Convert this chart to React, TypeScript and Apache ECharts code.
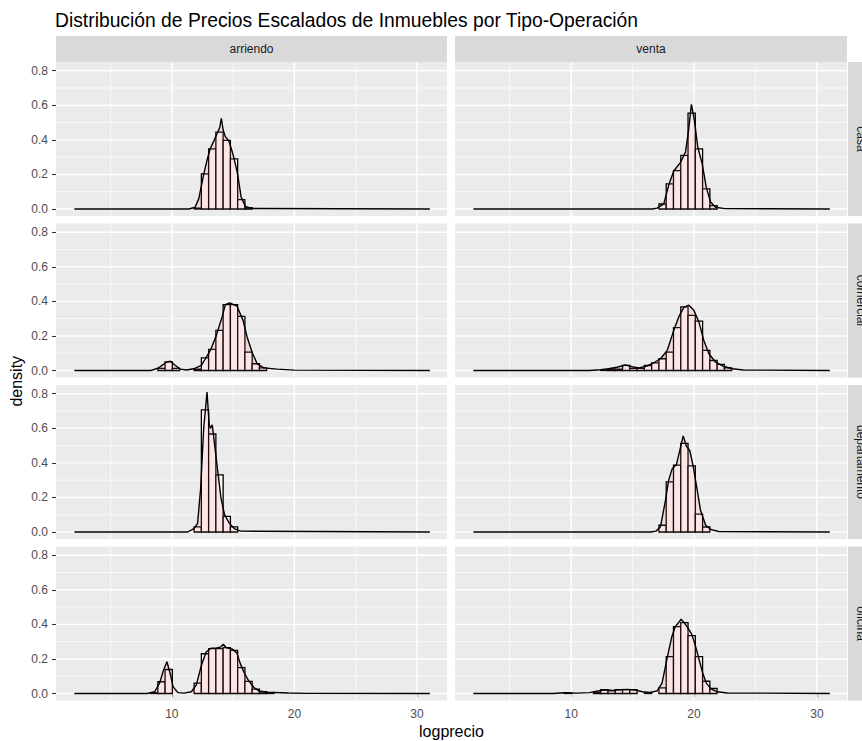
import React, { useEffect, useRef } from "react";
import * as echarts from "echarts";

// ---------- data ----------
const TITLE = "Distribución de Precios Escalados de Inmuebles por Tipo-Operación";
const OPERATIONS = ["arriendo", "venta"];
const TYPES = ["casa", "comercial", "departamento", "oficina"];
const X_TITLE = "logprecio";
const Y_TITLE = "density";
const BIN_WIDTH = 0.592;
const X_RANGE = [0.55, 32.45];
const Y_RANGE = [-0.0405, 0.8505];
const X_MAJOR = [10, 20, 30];
const X_MINOR = [5, 15, 25];
const Y_MAJOR = [0, 0.2, 0.4, 0.6, 0.8];
const Y_MINOR = [0.1, 0.3, 0.5, 0.7];

// histogram bins: [left edge, density]
const HIST_ARRIENDO_CASA = [[11.818, 0.005], [12.41, 0.203], [13.002, 0.348], [13.594, 0.445], [14.186, 0.397], [14.778, 0.29], [15.37, 0.054], [15.962, 0.008]];
const HIST_VENTA_CASA = [[17.146, 0.029], [17.738, 0.145], [18.33, 0.222], [18.922, 0.31], [19.514, 0.555], [20.106, 0.348], [20.698, 0.116], [21.29, 0.019]];
const HIST_ARRIENDO_COMERCIAL = [[8.858, 0.012], [9.45, 0.05], [10.042, 0.012], [11.818, 0.008], [12.41, 0.073], [13.002, 0.122], [13.594, 0.232], [14.186, 0.381], [14.778, 0.381], [15.37, 0.313], [15.962, 0.106], [16.554, 0.039], [17.146, 0.015]];
const HIST_VENTA_COMERCIAL = [[12.41, 0.004], [13.002, 0.008], [13.594, 0.008], [14.186, 0.03], [14.778, 0.012], [15.37, 0.012], [15.962, 0.029], [16.554, 0.044], [17.146, 0.068], [17.738, 0.106], [18.33, 0.248], [18.922, 0.368], [19.514, 0.319], [20.106, 0.286], [20.698, 0.116], [21.29, 0.058], [21.882, 0.035], [22.474, 0.015]];
const HIST_ARRIENDO_DEPARTAMENTO = [[11.818, 0.03], [12.41, 0.707], [13.002, 0.567], [13.594, 0.33], [14.186, 0.09], [14.778, 0.03]];
const HIST_VENTA_DEPARTAMENTO = [[17.146, 0.039], [17.738, 0.29], [18.33, 0.387], [18.922, 0.513], [19.514, 0.383], [20.106, 0.103], [20.698, 0.029]];
const HIST_ARRIENDO_OFICINA = [[8.266, 0.005], [8.858, 0.068], [9.45, 0.139], [11.818, 0.06], [12.41, 0.23], [13.002, 0.26], [13.594, 0.26], [14.186, 0.265], [14.778, 0.25], [15.37, 0.15], [15.962, 0.07], [16.554, 0.025], [17.146, 0.01], [17.738, 0.005]];
const HIST_VENTA_OFICINA = [[9.45, 0.003], [11.818, 0.008], [12.41, 0.022], [13.002, 0.015], [13.594, 0.022], [14.186, 0.022], [14.778, 0.022], [15.962, 0.003], [17.146, 0.033], [17.738, 0.213], [18.33, 0.387], [18.922, 0.41], [19.514, 0.335], [20.106, 0.213], [20.698, 0.071], [21.29, 0.029]];

// density curves: [logprecio, density]
const DENS_ARRIENDO_CASA = [[2.05, 0], [11.4, 0], [11.9, 0.01], [12.2, 0.06], [12.6, 0.2], [12.9, 0.29], [13.14, 0.35], [13.4, 0.39], [13.69, 0.435], [13.9, 0.47], [14.04, 0.525], [14.18, 0.46], [14.35, 0.42], [14.64, 0.395], [14.85, 0.35], [15.05, 0.3], [15.37, 0.2], [15.65, 0.07], [16.0, 0.015], [16.5, 0.003], [31.05, 0]];
const DENS_VENTA_CASA = [[2.05, 0], [16.6, 0], [17.0, 0.005], [17.54, 0.03], [17.95, 0.14], [18.35, 0.22], [18.9, 0.27], [19.31, 0.33], [19.55, 0.45], [19.79, 0.605], [20.04, 0.51], [20.3, 0.36], [20.67, 0.26], [21.0, 0.125], [21.35, 0.04], [21.75, 0.01], [22.5, 0.002], [31.05, 0]];
const DENS_ARRIENDO_COMERCIAL = [[2.05, 0], [8.3, 0], [8.92, 0.015], [9.55, 0.048], [9.88, 0.054], [10.29, 0.029], [10.7, 0.008], [11.2, 0.003], [11.78, 0.01], [12.41, 0.03], [12.74, 0.068], [13.14, 0.116], [13.63, 0.203], [14.1, 0.31], [14.37, 0.381], [14.72, 0.391], [15.32, 0.372], [15.81, 0.29], [16.14, 0.194], [16.55, 0.106], [16.95, 0.04], [17.5, 0.015], [18.6, 0.008], [20, 0.002], [31.05, 0]];
const DENS_VENTA_COMERCIAL = [[2.05, 0], [11.5, 0], [12.4, 0.004], [13.05, 0.01], [13.73, 0.019], [14.41, 0.032], [14.95, 0.022], [15.5, 0.015], [16.04, 0.023], [16.59, 0.039], [17.27, 0.068], [17.82, 0.116], [18.35, 0.232], [18.76, 0.31], [19.17, 0.365], [19.58, 0.378], [19.99, 0.348], [20.4, 0.28], [20.8, 0.174], [21.21, 0.097], [21.76, 0.048], [22.44, 0.023], [23.12, 0.01], [24, 0.003], [31.05, 0]];
const DENS_ARRIENDO_DEPARTAMENTO = [[2.05, 0], [11.3, 0], [11.8, 0.02], [12.1, 0.05], [12.35, 0.25], [12.6, 0.6], [12.87, 0.81], [13.05, 0.62], [13.15, 0.6], [13.3, 0.62], [13.5, 0.5], [13.75, 0.35], [14.0, 0.2], [14.3, 0.1], [14.7, 0.05], [15.1, 0.02], [15.6, 0.005], [31.05, 0]];
const DENS_VENTA_DEPARTAMENTO = [[2.05, 0], [16.5, 0], [16.9, 0.005], [17.27, 0.03], [17.67, 0.18], [17.94, 0.3], [18.22, 0.365], [18.57, 0.39], [18.9, 0.49], [19.12, 0.556], [19.39, 0.495], [19.66, 0.47], [19.94, 0.378], [20.26, 0.242], [20.53, 0.126], [20.94, 0.04], [21.35, 0.015], [22, 0.003], [31.05, 0]];
const DENS_ARRIENDO_OFICINA = [[2.05, 0], [8.0, 0], [8.6, 0.01], [9.0, 0.06], [9.3, 0.13], [9.6, 0.184], [9.85, 0.12], [10.1, 0.04], [10.5, 0.005], [11.0, 0.002], [11.6, 0.01], [12.0, 0.05], [12.4, 0.16], [12.8, 0.24], [13.2, 0.262], [13.6, 0.262], [14.0, 0.27], [14.2, 0.285], [14.45, 0.265], [14.9, 0.258], [15.3, 0.235], [15.6, 0.17], [15.9, 0.12], [16.3, 0.07], [16.7, 0.035], [17.1, 0.015], [17.8, 0.007], [19.5, 0.003], [21, 0.001], [31.05, 0]];
const DENS_VENTA_OFICINA = [[2.05, 0], [8.5, 0], [9.5, 0.004], [10.5, 0.002], [11.5, 0.005], [12.2, 0.015], [12.8, 0.022], [13.4, 0.018], [14.0, 0.022], [14.6, 0.024], [15.2, 0.02], [15.8, 0.01], [16.4, 0.006], [17.0, 0.015], [17.4, 0.06], [17.8, 0.2], [18.2, 0.33], [18.5, 0.39], [18.8, 0.415], [18.95, 0.43], [19.2, 0.41], [19.5, 0.38], [19.8, 0.345], [20.1, 0.28], [20.4, 0.2], [20.7, 0.12], [21.0, 0.06], [21.4, 0.025], [21.9, 0.01], [22.7, 0.003], [31.05, 0]];

// rows = TYPES, columns = OPERATIONS
const HIST = [
  [HIST_ARRIENDO_CASA, HIST_VENTA_CASA],
  [HIST_ARRIENDO_COMERCIAL, HIST_VENTA_COMERCIAL],
  [HIST_ARRIENDO_DEPARTAMENTO, HIST_VENTA_DEPARTAMENTO],
  [HIST_ARRIENDO_OFICINA, HIST_VENTA_OFICINA],
];
const DENS = [
  [DENS_ARRIENDO_CASA, DENS_VENTA_CASA],
  [DENS_ARRIENDO_COMERCIAL, DENS_VENTA_COMERCIAL],
  [DENS_ARRIENDO_DEPARTAMENTO, DENS_VENTA_DEPARTAMENTO],
  [DENS_ARRIENDO_OFICINA, DENS_VENTA_OFICINA],
];

// ---------- layout ----------
const W = 862;
const H = 741;
const FONT = '"Liberation Sans", Arial, Helvetica, sans-serif';
const COL_LEFT = [56, 455];
const COL_W = [391, 392];
const ROW_TOP = [62, 223.5, 385, 546.5];
const PANEL_H = 154;
const STRIP_TOP = 36;
const STRIP_H = 26;
const STRIP_RIGHT_X = 848;

export default function App() {
  const ref = useRef<HTMLDivElement>(null);

  useEffect(() => {
    if (!ref.current) return;
    const chart = echarts.init(ref.current, null, { renderer: "svg" });

    const grids: any[] = [];
    const xAxes: any[] = [];
    const yAxes: any[] = [];
    const series: any[] = [];
    const graphics: any[] = [];

    const gridLineData: any[] = [];
    X_MAJOR.forEach((v) => gridLineData.push([0, v, 1]));
    X_MINOR.forEach((v) => gridLineData.push([0, v, 0]));
    Y_MAJOR.forEach((v) => gridLineData.push([1, v, 1]));
    Y_MINOR.forEach((v) => gridLineData.push([1, v, 0]));

    TYPES.forEach((type, r) => {
      OPERATIONS.forEach((op, c) => {
        const i = r * OPERATIONS.length + c;
        const isBottom = r === TYPES.length - 1;
        const isLeft = c === 0;
        grids.push({
          left: COL_LEFT[c],
          top: ROW_TOP[r],
          width: COL_W[c],
          height: PANEL_H,
          show: true,
          backgroundColor: "#EBEBEB",
          borderWidth: 0,
        });
        xAxes.push({
          type: "value",
          gridIndex: i,
          min: X_RANGE[0],
          max: X_RANGE[1],
          axisLine: { show: false },
          splitLine: { show: false },
          axisTick: {
            show: isBottom,
            customValues: X_MAJOR,
            length: 4,
            lineStyle: { color: "#333333", width: 1.1 },
          },
          axisLabel: {
            show: isBottom,
            customValues: X_MAJOR,
            color: "#4D4D4D",
            fontSize: 12,
            fontFamily: FONT,
            margin: 7,
          },
        });
        yAxes.push({
          type: "value",
          gridIndex: i,
          min: Y_RANGE[0],
          max: Y_RANGE[1],
          axisLine: { show: false },
          splitLine: { show: false },
          axisTick: {
            show: isLeft,
            customValues: Y_MAJOR,
            length: 4,
            lineStyle: { color: "#333333", width: 1.1 },
          },
          axisLabel: {
            show: isLeft,
            customValues: Y_MAJOR,
            color: "#4D4D4D",
            fontSize: 12,
            fontFamily: FONT,
            margin: 8,
            formatter: (v: number) => v.toFixed(1),
          },
        });

        // grid lines
        series.push({
          type: "custom",
          xAxisIndex: i,
          yAxisIndex: i,
          silent: true,
          z: 1,
          data: gridLineData,
          renderItem: (params: any, api: any) => {
            const orient = api.value(0);
            const v = api.value(1);
            const major = api.value(2);
            const cs = params.coordSys;
            let shape;
            if (orient === 0) {
              const px = api.coord([v, 0])[0];
              shape = { x1: px, y1: cs.y, x2: px, y2: cs.y + cs.height };
            } else {
              const py = api.coord([X_RANGE[0], v])[1];
              shape = { x1: cs.x, y1: py, x2: cs.x + cs.width, y2: py };
            }
            return {
              type: "line",
              shape,
              style: { stroke: "#FFFFFF", lineWidth: major ? 1.4 : 0.7 },
            };
          },
        });

        // histogram
        series.push({
          type: "custom",
          xAxisIndex: i,
          yAxisIndex: i,
          silent: true,
          z: 2,
          encode: { x: [0, 1], y: 2 },
          data: HIST[r][c].map(([left, d]) => [left, left + BIN_WIDTH, d]),
          renderItem: (params: any, api: any) => {
            const a = api.coord([api.value(0), 0]);
            const b = api.coord([api.value(1), api.value(2)]);
            return {
              type: "rect",
              shape: { x: a[0], y: b[1], width: b[0] - a[0], height: a[1] - b[1] },
              style: { fill: "#FAF7F7", stroke: "#000000", lineWidth: 1.3 },
            };
          },
        });

        // density
        series.push({
          type: "line",
          xAxisIndex: i,
          yAxisIndex: i,
          silent: true,
          z: 3,
          showSymbol: false,
          symbol: "none",
          data: DENS[r][c],
          lineStyle: { color: "#000000", width: 1.4 },
          areaStyle: { color: "rgba(255,102,102,0.17)" },
        });
      });
    });

    // top strips
    OPERATIONS.forEach((op, c) => {
      graphics.push({
        type: "rect",
        silent: true,
        shape: { x: COL_LEFT[c], y: STRIP_TOP, width: COL_W[c], height: STRIP_H },
        style: { fill: "#D9D9D9" },
      });
      graphics.push({
        type: "text",
        silent: true,
        x: COL_LEFT[c] + COL_W[c] / 2,
        y: STRIP_TOP + STRIP_H / 2,
        style: {
          text: op,
          fill: "#1A1A1A",
          font: `12px ${FONT}`,
          textAlign: "center",
          textVerticalAlign: "middle",
        },
      });
    });
    // right strips (cut by the page edge, as in the original)
    TYPES.forEach((type, r) => {
      graphics.push({
        type: "rect",
        silent: true,
        shape: { x: STRIP_RIGHT_X, y: ROW_TOP[r], width: STRIP_H, height: PANEL_H },
        style: { fill: "#D9D9D9" },
      });
      graphics.push({
        type: "text",
        silent: true,
        x: STRIP_RIGHT_X + STRIP_H / 2,
        y: ROW_TOP[r] + PANEL_H / 2,
        rotation: -Math.PI / 2,
        style: {
          text: type,
          fill: "#1A1A1A",
          font: `12px ${FONT}`,
          textAlign: "center",
          textVerticalAlign: "middle",
        },
      });
    });
    // title
    graphics.push({
      type: "text",
      silent: true,
      x: 55,
      y: 20,
      style: {
        text: TITLE,
        fill: "#000000",
        font: `19.3px ${FONT}`,
        textAlign: "left",
        textVerticalAlign: "middle",
      },
    });
    // axis titles
    const plotBottom = ROW_TOP[ROW_TOP.length - 1] + PANEL_H;
    graphics.push({
      type: "text",
      silent: true,
      x: (COL_LEFT[0] + COL_LEFT[1] + COL_W[1]) / 2,
      y: 731,
      style: {
        text: X_TITLE,
        fill: "#000000",
        font: `16px ${FONT}`,
        textAlign: "center",
        textVerticalAlign: "middle",
      },
    });
    graphics.push({
      type: "text",
      silent: true,
      x: 16,
      y: (ROW_TOP[0] + plotBottom) / 2,
      rotation: Math.PI / 2,
      style: {
        text: Y_TITLE,
        fill: "#000000",
        font: `16px ${FONT}`,
        textAlign: "center",
        textVerticalAlign: "middle",
      },
    });

    chart.setOption({
      animation: false,
      backgroundColor: "#FFFFFF",
      grid: grids,
      xAxis: xAxes,
      yAxis: yAxes,
      series,
      graphic: { elements: graphics },
    });

    return () => chart.dispose();
  }, []);

  return (
    <div
      ref={ref}
      style={{ position: "absolute", left: 0, top: 0, width: W, height: H }}
    />
  );
}
